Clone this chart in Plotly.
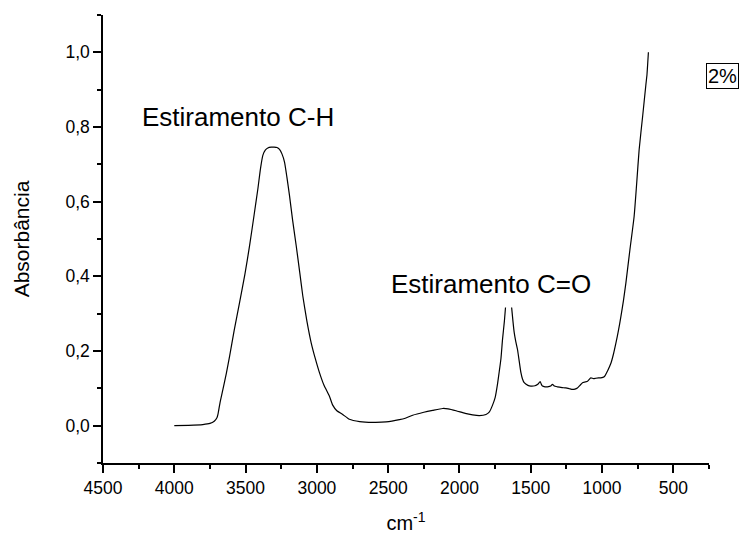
import plotly.graph_objects as go

wavenumber = [4000, 3900, 3800, 3750, 3720, 3700, 3694, 3680, 3659, 3635, 3612, 3580, 3542, 3505,
              3472, 3440, 3414, 3395, 3379, 3362, 3344, 3320, 3300, 3280, 3262, 3245, 3227, 3210,
              3192, 3170, 3145, 3120, 3099, 3070, 3040, 3010, 2982, 2950, 2912, 2889, 2860, 2819,
              2772, 2700, 2609, 2515, 2421, 2380, 2328, 2250, 2188, 2118, 2080, 2024, 1960, 1908,
              1861, 1814, 1790, 1768, 1750, 1733, 1721, 1709, 1698, 1685, 1674, 1660, 1648, 1635,
              1625, 1616, 1605, 1593, 1580, 1569, 1558, 1546, 1520, 1499, 1470, 1453, 1434, 1425,
              1418, 1400, 1383, 1360, 1348, 1335, 1313, 1280, 1254, 1230, 1207, 1190, 1173, 1155,
              1137, 1120, 1102, 1090, 1079, 1060, 1044, 1025, 1009, 985, 960, 938, 920, 903,
              885, 868, 850, 833, 805, 775, 757, 740, 715, 693, 685, 675]
absorbance = [0.000, 0.001, 0.003, 0.006, 0.012, 0.022, 0.030, 0.060, 0.097, 0.140, 0.186, 0.255, 0.330, 0.405,
              0.482, 0.565, 0.634, 0.690, 0.724, 0.738, 0.744, 0.746, 0.746, 0.745, 0.740, 0.728, 0.706, 0.665,
              0.616, 0.550, 0.482, 0.410, 0.348, 0.280, 0.222, 0.178, 0.142, 0.108, 0.079, 0.055, 0.040, 0.030,
              0.017, 0.011, 0.009, 0.010, 0.016, 0.020, 0.028, 0.036, 0.041, 0.046, 0.045, 0.040, 0.033, 0.029,
              0.027, 0.030, 0.037, 0.055, 0.075, 0.112, 0.145, 0.180, 0.231, 0.280, 0.330, 0.370, 0.370, 0.320,
              0.280, 0.249, 0.225, 0.204, 0.170, 0.142, 0.125, 0.115, 0.108, 0.106, 0.107, 0.110, 0.118, 0.110,
              0.106, 0.104, 0.104, 0.106, 0.111, 0.106, 0.104, 0.102, 0.101, 0.099, 0.097, 0.098, 0.101, 0.108,
              0.115, 0.117, 0.119, 0.124, 0.128, 0.126, 0.127, 0.128, 0.128, 0.131, 0.148, 0.167, 0.192, 0.221,
              0.255, 0.292, 0.335, 0.382, 0.470, 0.561, 0.650, 0.739, 0.830, 0.912, 0.940, 1.000]

label_ch = "Estiramento C-H"
label_co = "Estiramento C=O"
label_pct = "2%"
x_title = "cm<sup>-1</sup>"
y_title = "Absorbância"

font_family = "Liberation Sans, Arial, sans-serif"

fig = go.Figure()
fig.add_trace(go.Scatter(x=wavenumber, y=absorbance, mode="lines",
                         line=dict(color="black", width=1.2, shape="spline", smoothing=0.5),
                         showlegend=False))

fig.add_annotation(x=3556, y=0.828, xref="x", yref="y", text=label_ch, showarrow=False,
                   font=dict(size=26, color="black", family=font_family), xanchor="center", yanchor="middle")
fig.add_annotation(x=1777, y=0.379, xref="x", yref="y", text=label_co, showarrow=False,
                   font=dict(size=26, color="black", family=font_family), xanchor="center", yanchor="middle",
                   bgcolor="white", borderpad=8)
fig.add_annotation(x=0.9945, y=0.864, xref="paper", yref="paper", text=label_pct, showarrow=False,
                   font=dict(size=20, color="black", family=font_family), xanchor="left", yanchor="middle",
                   bordercolor="black", borderwidth=1, borderpad=1, bgcolor="white")

fig.update_layout(
    width=740, height=534,
    margin=dict(l=103, r=31, t=15, b=71),
    paper_bgcolor="white", plot_bgcolor="white",
    separators=",.",
    font=dict(family=font_family, color="black", size=17),
    showlegend=False,
)
fig.update_xaxes(
    range=[4500, 250], dtick=500, tick0=0, tickformat="d", automargin=False,
    ticks="outside", ticklen=8, tickwidth=1.5, tickcolor="black",
    minor=dict(ticks="outside", ticklen=4, dtick=250, tick0=0, tickcolor="black", tickwidth=1.5),
    showline=True, linecolor="black", linewidth=1.5, showgrid=False, zeroline=False,
    tickfont=dict(size=17.5), title=dict(text=x_title, font=dict(size=20), standoff=20),
)
fig.update_yaxes(
    range=[-0.1, 1.1], dtick=0.2, tick0=0, tickformat=".1f", automargin=False,
    ticks="outside", ticklen=8, tickwidth=1.5, tickcolor="black",
    minor=dict(ticks="outside", ticklen=4, dtick=0.1, tick0=0, tickcolor="black", tickwidth=1.5),
    showline=True, linecolor="black", linewidth=1.5, showgrid=False, zeroline=False,
    tickfont=dict(size=17.5), title=dict(text=y_title, font=dict(size=21), standoff=30),
)

fig.write_html("out.html", post_script="document.body.style.margin='0';",
               config={"displayModeBar": False})
